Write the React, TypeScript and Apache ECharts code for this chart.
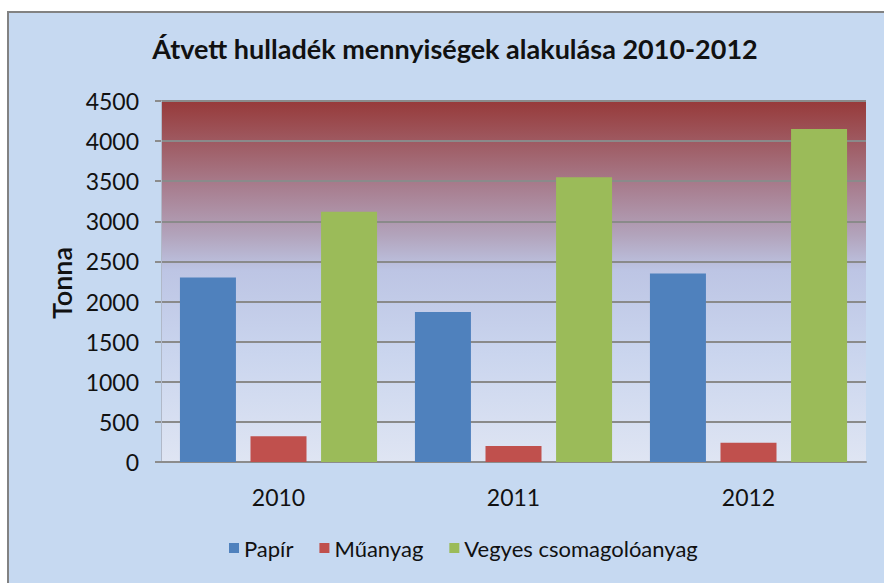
import React, { useEffect, useRef } from "react";
import * as echarts from "echarts";

const categories = ["2010", "2011", "2012"];
const papir = [2300, 1870, 2350];
const muanyag = [320, 200, 240];
const vegyes = [3120, 3550, 4150];
const seriesNames = ["Papír", "Műanyag", "Vegyes csomagolóanyag"];
const titleText = "Átvett hulladék mennyiségek alakulása 2010-2012";
const yAxisTitle = "Tonna";

const FONT = "Lato, 'Open Sans', sans-serif";

export default function App() {
  const ref = useRef<HTMLDivElement>(null);
  useEffect(() => {
    document.body.style.margin = "0";
    const chart = echarts.init(ref.current!, undefined, { renderer: "svg" });
    const colors = ["#4f81bd", "#c0504d", "#9bbb59"];
    chart.setOption({
      animation: false,
      color: colors,
      backgroundColor: "#ffffff",
      graphic: [
        {
          type: "rect",
          z: -10,
          silent: true,
          shape: { x: 8, y: 12, width: 900, height: 600 },
          style: { fill: "#c6d9f1", stroke: "#828282", lineWidth: 2 },
        },
        {
          type: "text",
          x: 61,
          y: 283,
          rotation: Math.PI / 2,
          style: {
            text: yAxisTitle,
            fill: "#111",
            font: `600 27px ${FONT}`,
            textAlign: "center",
            textVerticalAlign: "middle",
          },
        },
      ],
      title: {
        text: titleText,
        left: 450,
        textAlign: "center",
        top: 30,
        textStyle: { fontFamily: FONT, fontWeight: "bold", fontSize: 27, color: "#111" },
      },
      grid: {
        left: 161,
        right: 18,
        top: 101,
        bottom: 121,
        show: true,
        borderWidth: 0,
        backgroundColor: new echarts.graphic.LinearGradient(0, 0, 0, 1, [
          { offset: 0, color: "#973a3a" },
          { offset: 0.12, color: "#9f5c64" },
          { offset: 0.25, color: "#a98193" },
          { offset: 0.37, color: "#b2a3bb" },
          { offset: 0.47, color: "#bdc5e4" },
          { offset: 0.7, color: "#cad5ee" },
          { offset: 1, color: "#dfe5f3" },
        ]),
      },
      legend: {
        bottom: 19,
        left: 224,
        itemWidth: 10,
        itemHeight: 10,
        itemGap: 26,
        icon: "rect",
        textStyle: { fontFamily: FONT, fontSize: 22, color: "#111" },
        data: seriesNames,
      },
      xAxis: {
        type: "category",
        data: categories,
        axisLine: { lineStyle: { color: "#8c8c8c", width: 2 } },
        axisTick: { show: false },
        axisLabel: { fontFamily: FONT, fontSize: 23, color: "#111", margin: 23 },
      },
      yAxis: {
        type: "value",
        min: 0,
        max: 4500,
        interval: 500,
        axisLine: { show: true, lineStyle: { color: "#b0b8c8", width: 1 } },
        axisTick: { show: true, length: 6, lineStyle: { color: "#8c8c8c", width: 2 } },
        splitLine: { lineStyle: { color: "#8a8a8a", width: 2 } },
        axisLabel: {
          fontFamily: FONT,
          fontSize: 23,
          color: "#111",
          margin: 22,
          formatter: (v: number) => String(v),
        },
      },
      series: [
        { name: seriesNames[0], type: "bar", data: papir, barWidth: 56, barGap: "26%" },
        { name: seriesNames[1], type: "bar", data: muanyag, barWidth: 56, barGap: "26%" },
        { name: seriesNames[2], type: "bar", data: vegyes, barWidth: 56, barGap: "26%" },
      ],
    });
    return () => chart.dispose();
  }, []);
  return <div ref={ref} style={{ width: 884, height: 583 }} />;
}
